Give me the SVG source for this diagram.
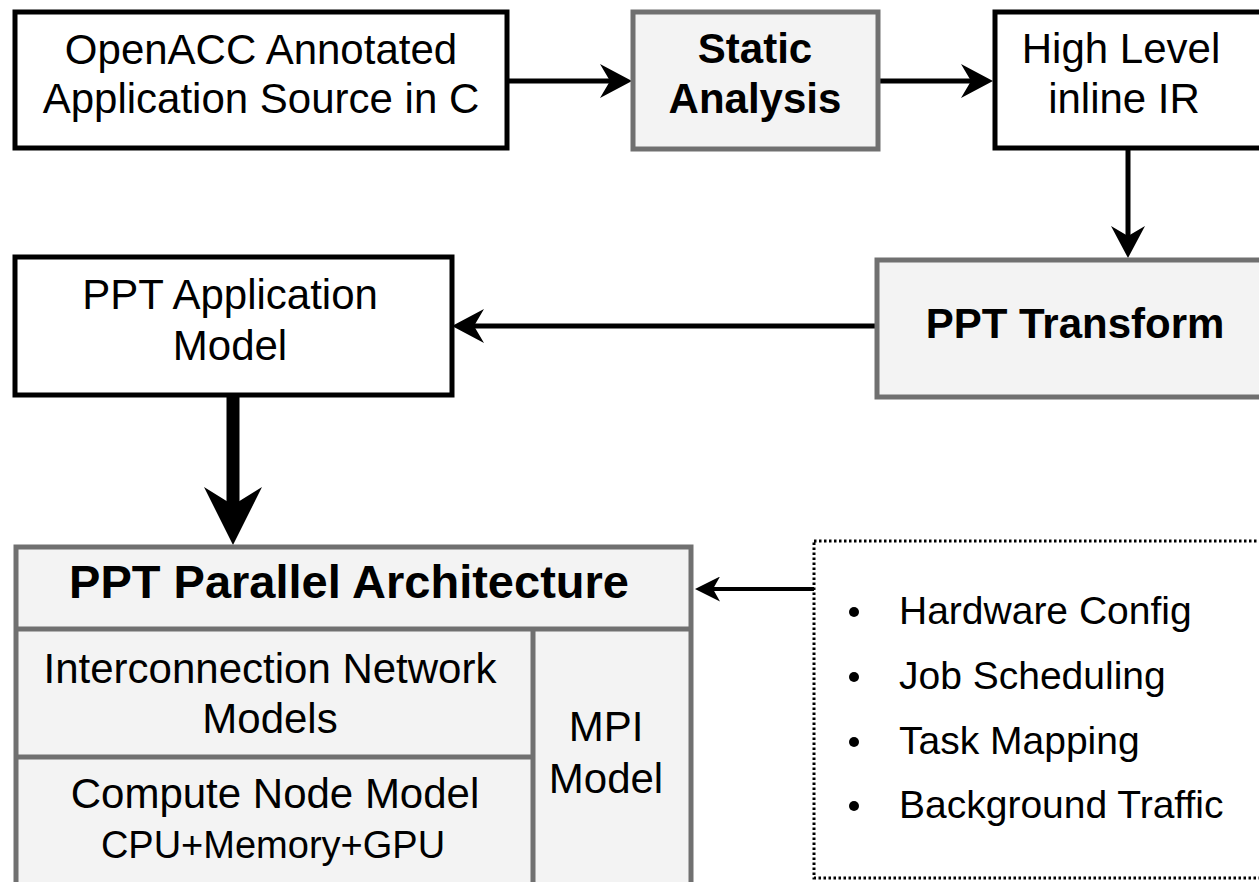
<svg xmlns="http://www.w3.org/2000/svg" width="1259" height="882" viewBox="0 0 1259 882">
  <defs>
    <style>
      .txt { font-family: "Liberation Sans", Arial, Helvetica, sans-serif; fill: #000; text-anchor: middle; }
      .n42 { font-size: 42px; }
      .b42 { font-size: 42px; font-weight: bold; }
      .b46 { font-size: 47px; font-weight: bold; }
      .n38 { font-size: 38px; }
      .lst { font-family: "Liberation Sans", Arial, Helvetica, sans-serif; font-size: 39px; fill: #000; text-anchor: start; }
      .blk { fill: #ffffff; stroke: #000000; stroke-width: 5; }
      .gry { fill: #f3f3f3; stroke: #707070; stroke-width: 5; }
      .gline { stroke: #707070; stroke-width: 5; fill: none; }
      .conn { stroke: #000000; fill: none; stroke-width: 5; }
    </style>
    <marker id="arr" viewBox="0 0 32 34" markerWidth="32" markerHeight="34" refX="10" refY="17" orient="auto" markerUnits="userSpaceOnUse">
      <path d="M0,0 L32,17 L0,34 L10,17 Z" fill="#000"/>
    </marker>
    <marker id="arrBig" viewBox="0 0 58 58" markerWidth="58" markerHeight="58" refX="18" refY="29" orient="auto" markerUnits="userSpaceOnUse">
      <path d="M0,0 L58,29 L0,58 L18,29 Z" fill="#000"/>
    </marker>
    <marker id="arrSmall" viewBox="0 0 25 25" markerWidth="25" markerHeight="25" refX="7" refY="12.5" orient="auto" markerUnits="userSpaceOnUse">
      <path d="M0,0 L25,12.5 L0,25 L7,12.5 Z" fill="#000"/>
    </marker>
  </defs>

  <rect x="0" y="0" width="1259" height="882" fill="#ffffff"/>

  <g id="connectors">
    <line class="conn" x1="507" y1="81" x2="610" y2="81" marker-end="url(#arr)"/>
    <line class="conn" x1="878" y1="81" x2="971" y2="81" marker-end="url(#arr)"/>
    <line class="conn" x1="1128" y1="148" x2="1128" y2="236" marker-end="url(#arr)"/>
    <line class="conn" x1="877" y1="326" x2="474" y2="326" marker-end="url(#arr)"/>
    <line class="conn" x1="233" y1="395" x2="233" y2="505" style="stroke-width:13" marker-end="url(#arrBig)"/>
    <line class="conn" x1="814" y1="589" x2="713" y2="589" style="stroke-width:4" marker-end="url(#arrSmall)"/>
  </g>

  <g id="node-source">
    <rect class="blk" x="15" y="12" width="492" height="136"/>
    <text class="txt n42" x="261" y="64">OpenACC Annotated</text>
    <text class="txt n42" x="261" y="113">Application Source in C</text>
  </g>

  <g id="node-static">
    <rect class="gry" x="633" y="12" width="245" height="137"/>
    <text class="txt b42" x="755" y="63">Static</text>
    <text class="txt b42" x="755" y="113">Analysis</text>
  </g>

  <g id="node-highlevel">
    <rect class="blk" x="995" y="12" width="268" height="136"/>
    <text class="txt n42" x="1121" y="63">High Level</text>
    <text class="txt n42" x="1124" y="113">inline IR</text>
  </g>

  <g id="node-transform">
    <rect class="gry" x="877" y="260" width="396" height="137"/>
    <text class="txt b42" x="1075" y="338">PPT Transform</text>
  </g>

  <g id="node-appmodel">
    <rect class="blk" x="15" y="257" width="437" height="138"/>
    <text class="txt n42" x="230" y="309">PPT Application</text>
    <text class="txt n42" x="230" y="360">Model</text>
  </g>

  <g id="node-parallel">
    <rect class="gry" x="16" y="547" width="675" height="345"/>
    <line class="gline" x1="16" y1="629" x2="691" y2="629"/>
    <line class="gline" x1="16" y1="757" x2="533" y2="757"/>
    <line class="gline" x1="533" y1="629" x2="533" y2="892"/>
    <text class="txt b46" x="349" y="598">PPT Parallel Architecture</text>
    <text class="txt n42" x="270" y="683">Interconnection Network</text>
    <text class="txt n42" x="270" y="733">Models</text>
    <text class="txt n42" x="275" y="808">Compute Node Model</text>
    <text class="txt n38" x="273" y="858">CPU+Memory+GPU</text>
    <text class="txt n42" x="606" y="741">MPI</text>
    <text class="txt n42" x="606" y="793">Model</text>
  </g>

  <g id="node-config">
    <rect x="814" y="541" width="460" height="337" fill="none" stroke="#000" stroke-width="3" stroke-dasharray="2.5 2.5"/>
    <circle cx="854" cy="612" r="5"/>
    <circle cx="854" cy="677" r="5"/>
    <circle cx="854" cy="742" r="5"/>
    <circle cx="854" cy="806" r="5"/>
    <text class="lst" x="899" y="624">Hardware Config</text>
    <text class="lst" x="899" y="689">Job Scheduling</text>
    <text class="lst" x="899" y="754">Task Mapping</text>
    <text class="lst" x="899" y="818">Background Traffic</text>
  </g>
</svg>
